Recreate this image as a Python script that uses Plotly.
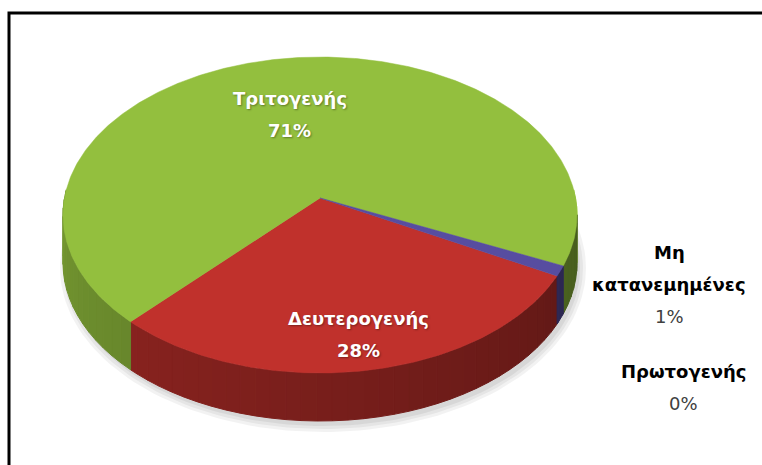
import numpy as np
import plotly.graph_objects as go

# ---------------- data ----------------
categories = ["Πρωτογενής", "Δευτερογενής", "Τριτογενής", "Μη κατανεμημένες"]
percent_values = [0, 28, 71, 1]
percent_labels = ["0%", "28%", "71%", "1%"]

# ---------------- style / layout ----------------
W, H = 762, 465
CX, CY = 320, 215          # centre of the top ellipse (px)
RX, RY = 257, 158          # radii of the top ellipse (px)
APEX_DY = -17              # perspective shift of slice apex
DEPTH = 48                 # thickness of the 3D pie (px)
START_DEG = 30.6           # first slice starts here (screen deg, clockwise from 3 o'clock)
PERSP = 9.2                # perspective stretching of the front half (deg)

top_colors = ["#4F81BD", "#C0312C", "#93BF3E", "#574DA0"]
label_inside = [False, True, True, False]
label_font_color = ["#000000", "#FFFFFF", "#FFFFFF", "#000000"]
pct_font_color = ["#404040", "#FFFFFF", "#FFFFFF", "#404040"]
# inside labels: radial fraction + nudge; outside labels: block centre
inside_frac = {1: 0.78, 2: 0.60}
inside_nudge = {1: (2, 2), 2: (-6, 0)}
outside_center = {0: (683, 387), 3: (669, 284)}
LINE_GAP = 32
FONT = "DejaVu Sans"
FONT_SIZE = 18


def hex_rgb(h):
    h = h.lstrip("#")
    return np.array([int(h[i:i + 2], 16) for i in (0, 2, 4)], dtype=float)


def shade(h, f):
    c = np.clip(hex_rgb(h) * f, 0, 255).astype(int)
    return "rgb(%d,%d,%d)" % tuple(c)


def warp(theta_deg):
    th = np.asarray(theta_deg, dtype=float)
    return th - PERSP * np.cos(np.radians(th))


def ell(theta_deg, dy=0.0):
    t = np.radians(warp(theta_deg))
    return CX + RX * np.cos(t), CY + RY * np.sin(t) + dy


fig = go.Figure()

# soft shadow under the pie
for k, a in enumerate([0.05, 0.05, 0.06]):
    t = np.linspace(0, 360, 181)
    sx = CX + 3 + (RX + 6 - 3 * k) * np.cos(np.radians(t))
    sy = CY + DEPTH + 5 + (RY + 6 - 3 * k) * np.sin(np.radians(t))
    fig.add_trace(go.Scatter(x=sx, y=sy, mode="lines", fill="toself",
                             fillcolor="rgba(0,0,0,%g)" % a, line=dict(width=0),
                             hoverinfo="skip", showlegend=False))

total = float(sum(percent_values))
spans = [v / total * 360.0 for v in percent_values]
starts = list(START_DEG + np.concatenate([[0], np.cumsum(spans)[:-1]]))

# side walls (visible front half)
for i, (a0, sp) in enumerate(zip(starts, spans)):
    if sp <= 0:
        continue
    a1 = a0 + sp
    for lo, hi in [(0, 180), (360, 540)]:
        s0, s1 = max(a0, lo), min(a1, hi)
        if s1 <= s0:
            continue
        edges = np.arange(s0, s1, 3.0)
        edges = np.append(edges, s1)
        for e0, e1 in zip(edges[:-1], edges[1:]):
            tm = float(warp((e0 + e1) / 2)) % 360
            f = 0.48 + 0.30 * (tm / 180.0)
            tt = np.linspace(e0, e1, 4)
            xs_top, ys_top = ell(tt)
            xs_bot, ys_bot = ell(tt[::-1], DEPTH)
            xs = np.concatenate([xs_top, xs_bot, xs_top[:1]])
            ys = np.concatenate([ys_top, ys_bot, ys_top[:1]])
            col = shade(top_colors[i], f)
            fig.add_trace(go.Scatter(x=xs, y=ys, mode="lines", fill="toself",
                                     fillcolor=col, line=dict(color=col, width=1),
                                     hoverinfo="skip", showlegend=False))

# top faces
ax, ay = CX, CY + APEX_DY
for i, (a0, sp) in enumerate(zip(starts, spans)):
    if sp <= 0:
        continue
    tt = np.linspace(a0, a0 + sp, max(3, int(sp * 2)))
    xs, ys = ell(tt)
    xs = np.concatenate([[ax], xs, [ax]])
    ys = np.concatenate([[ay], ys, [ay]])
    fig.add_trace(go.Scatter(x=xs, y=ys, mode="lines", fill="toself",
                             fillcolor=top_colors[i],
                             line=dict(color=top_colors[i], width=0.5),
                             name=categories[i], hoverinfo="name", showlegend=False))

# labels
annotations = []
for i, cat in enumerate(categories):
    mid = starts[i] + spans[i] / 2
    if label_inside[i]:
        f = inside_frac[i]
        ex, ey = ell(mid)
        bx = ax + f * (ex - ax) + inside_nudge[i][0]
        by = ay + f * (ey - ay) + inside_nudge[i][1]
    else:
        bx, by = outside_center[i]
    lines = cat.split(" ")
    n = len(lines) + 1
    for j, txt in enumerate(lines + [percent_labels[i]]):
        is_pct = j == len(lines)
        yy = by + (j - (n - 1) / 2) * LINE_GAP
        bold = (not is_pct) or label_inside[i]
        color = pct_font_color[i] if is_pct else label_font_color[i]
        annotations.append(dict(
            x=float(bx), y=float(yy), xref="x", yref="y", text=txt, showarrow=False,
            xanchor="center", yanchor="middle",
            font=dict(family=FONT, size=FONT_SIZE, color=color,
                      weight="bold" if bold else "normal",
                      shadow="1px 1px 2px rgba(0,0,0,0.35)" if label_inside[i] else "none"),
        ))

fig.update_layout(
    width=W, height=H,
    margin=dict(l=0, r=0, t=0, b=0),
    paper_bgcolor="white", plot_bgcolor="white",
    showlegend=False, hovermode=False,
    xaxis=dict(range=[0, W], visible=False, fixedrange=True),
    yaxis=dict(range=[H, 0], visible=False, fixedrange=True),
    annotations=annotations,
    shapes=[dict(type="rect", xref="x", yref="y", x0=9, y0=13, x1=W + 10, y1=H + 10,
                 line=dict(color="black", width=3), fillcolor="rgba(0,0,0,0)", layer="above")],
)

fig.write_html(
    "out.html",
    config={"displayModeBar": False},
    post_script="document.body.style.margin='0';document.body.style.overflow='hidden';",
)
